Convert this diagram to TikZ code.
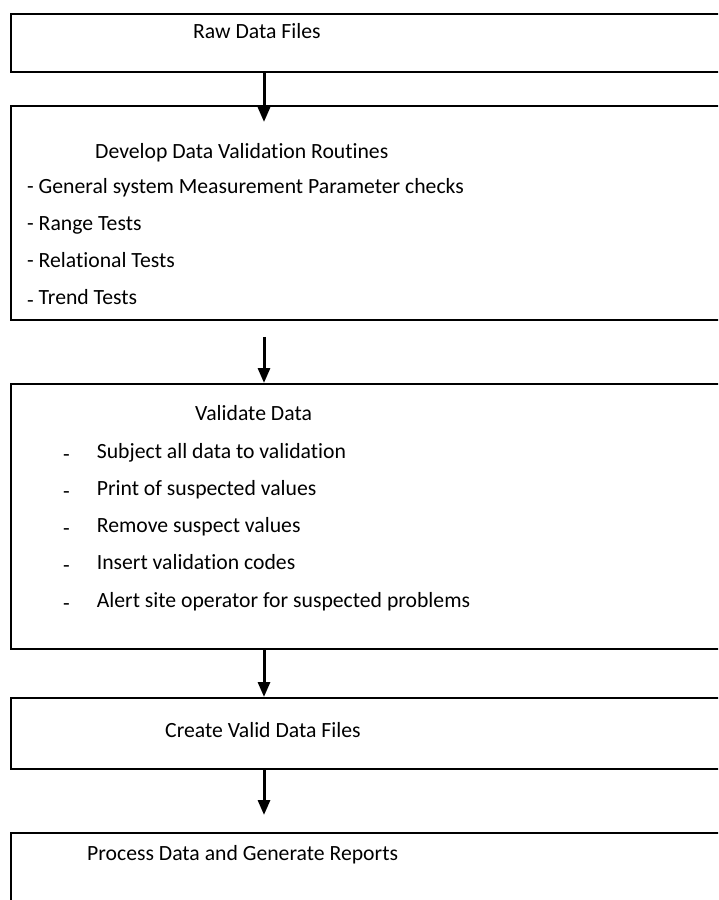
\documentclass[tikz,border=0pt]{standalone}
\usepackage{fontspec}
\setmainfont{Carlito}[Ligatures={NoCommon}]
\usetikzlibrary{arrows.meta}
\begin{document}
\begin{tikzpicture}[x=1pt, y=-1pt, font=\fontsize{21.7}{37.3}\selectfont, line join=miter, >={Triangle[length=15pt,width=12pt]}]
	\tikzset{kotak/.style={draw, line width=1.9pt, minimum width=730pt, inner sep=0pt, anchor=north west},
		teks/.style={inner sep=0pt, anchor=base west},
		panah/.style={->, line width=3pt}}
	\useasboundingbox (0,0) rectangle (718,900);
	\clip (0,0) rectangle (718,900);
	\node[kotak, minimum height=58pt] (raw) at (10,13) {};
	\node[kotak, minimum height=214pt] (dev) at (10,105) {};
	\node[kotak, minimum height=265pt] (val) at (10,383) {};
	\node[kotak, minimum height=71pt] (cre) at (10,697) {};
	\node[kotak, minimum height=100pt] (pro) at (10,832) {};
	\coordinate (ax) at (264,0);
	\draw[panah, shorten >=-17pt] (raw.south -| ax) -- (dev.north -| ax);
	\draw[panah, shorten <=16pt] (dev.south -| ax) -- (val.north -| ax);
	\draw[panah] (val.south -| ax) -- (cre.north -| ax);
	\draw[panah, shorten >=17pt] (cre.south -| ax) -- (pro.north -| ax);
	\node[teks] (rawT) at (193,38) {Raw Data Files};
	\node[teks] (devT) at (95,158) {Develop Data Validation Routines};
	\node[teks] (devL) at (27,193) {\begin{tabular}[t]{@{}l@{}}
			- General system Measurement Parameter checks\\
			- Range Tests\\
			- Relational Tests\\
			\raisebox{-3pt}{-} Trend Tests
		\end{tabular}};
	\node[teks] (valT) at (195,420) {Validate Data};
	\node[teks] (valL) at (63,458) {\begin{tabular}[t]{@{}l@{\hspace{27pt}}l@{}}
			\raisebox{-3pt}{-} & Subject all data to validation\\
			\raisebox{-3pt}{-} & Print of suspected values\\
			\raisebox{-3pt}{-} & Remove suspect values\\
			\raisebox{-3pt}{-} & Insert validation codes\\
			\raisebox{-3pt}{-} & Alert site operator for suspected problems
		\end{tabular}};
	\node[teks] (creT) at (165,737) {Create Valid Data Files};
	\node[teks] (proT) at (87,860) {Process Data and Generate Reports};
\end{tikzpicture}
\end{document}
